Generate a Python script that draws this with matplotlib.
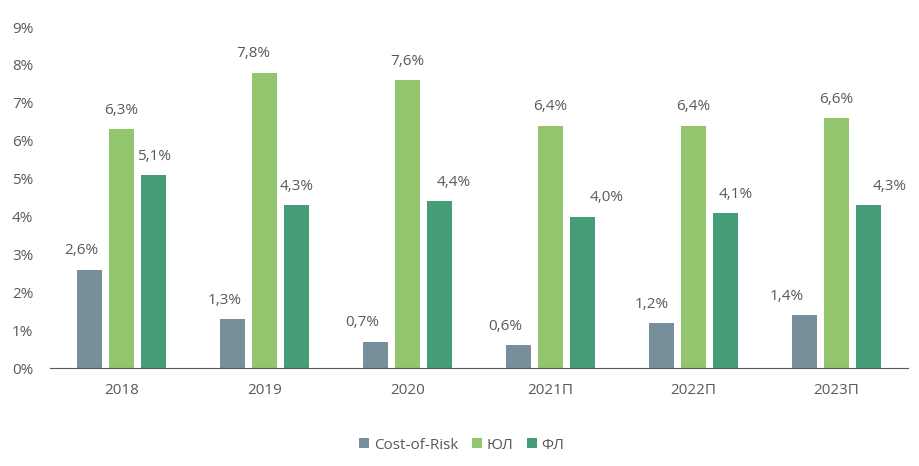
import matplotlib.pyplot as plt
import numpy as np

years = ["2018", "2019", "2020", "2021П", "2022П", "2023П"]
cost_of_risk = [2.6, 1.3, 0.7, 0.6, 1.2, 1.4]
ul = [6.3, 7.8, 7.6, 6.4, 6.4, 6.6]
fl = [5.1, 4.3, 4.4, 4.0, 4.1, 4.3]
series_names = ["Cost-of-Risk", "ЮЛ", "ФЛ"]

# horizontal nudges of the value labels (points), as placed in the original
label_dx = [
    [-6, -6, -10, -10, -7, -13],
    [0, -8, 0, 0, 0, 0],
    [0, 0, 10, 17, 7, 15],
]

plt.rcParams["font.family"] = ["Open Sans", "DejaVu Sans"]
text_color = "#595959"

fig = plt.figure(figsize=(9.2, 4.66), dpi=100)
ax = fig.add_axes([0.0543, 0.21, 0.9326, 0.732])

x = np.arange(len(years))
w = 0.175
offs = [-0.222, 0.0, 0.225]
colors = ["#778f9b", "#92c56e", "#459d78"]

for vals, off, col, name, dxs in zip([cost_of_risk, ul, fl], offs, colors, series_names, label_dx):
    bars = ax.bar(x + off, vals, w, color=col, label=name)
    for b, v, dx in zip(bars, vals, dxs):
        ax.annotate(f"{v:.1f}%".replace(".", ","),
                    (b.get_x() + b.get_width() / 2, v),
                    xytext=(dx, 8), textcoords="offset points",
                    ha="center", va="bottom", fontsize=11, color=text_color)

ax.set_xlim(-0.5, len(years) - 0.5)
ax.set_ylim(0, 9)
ax.set_yticks(range(10))
ax.set_yticklabels([f"{i}%" for i in range(10)])
ax.set_xticks(x)
ax.set_xticklabels(years)
ax.tick_params(axis="both", length=0, labelsize=11, colors=text_color)
ax.tick_params(axis="x", pad=11)
ax.tick_params(axis="y", pad=12)
for s in ["top", "right", "left"]:
    ax.spines[s].set_visible(False)
ax.spines["bottom"].set_color("#595959")

leg = fig.legend(loc="center", bbox_to_anchor=(0.502, 0.045), ncol=3, frameon=False,
                 fontsize=11, handlelength=0.65, handleheight=0.65, handletextpad=0.3,
                 columnspacing=0.9)
for t in leg.get_texts():
    t.set_color(text_color)

fig.savefig("out.png", dpi=100)
